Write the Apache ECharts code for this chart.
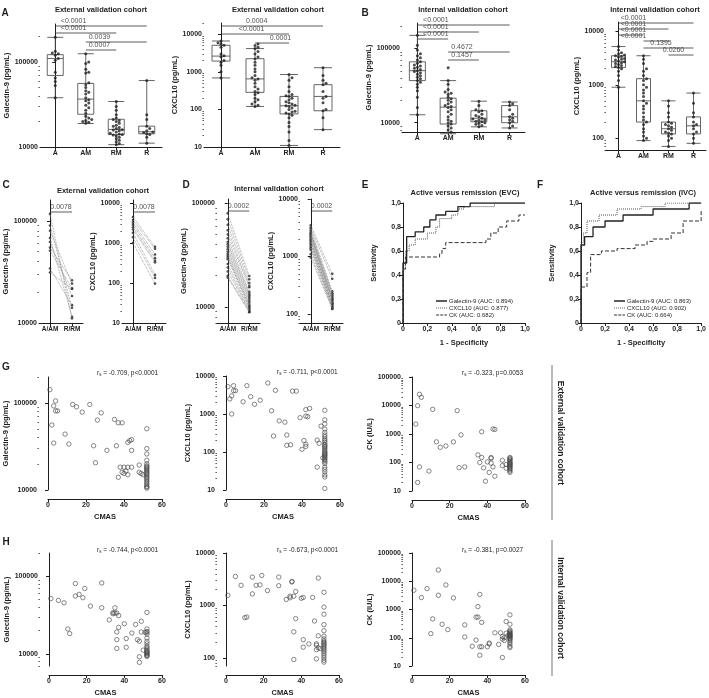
<!DOCTYPE html>
<html>
<head>
<meta charset="utf-8">
<script src="https://cdn.jsdelivr.net/npm/echarts@6/dist/echarts.min.js"></script>
<style>
  html, body { margin: 0; padding: 0; background: #fff; }
  #chart { width: 709px; height: 698px; }
</style>
</head>
<body>
<div id="chart"></div>
<script>
// ---------- data ----------
var groups = ['A', 'AM', 'RM', 'R'];
var pairCats = ['A/AM', 'R/RM'];

// A: external cohort, [min, Q1, median, Q3, max]
var galExtBox = [[38000, 69500, 110000, 122000, 195000], [18900, 24300, 36600, 56000, 125000], [10650, 14000, 16100, 21200, 34300], [11100, 14300, 15100, 17600, 60500]];
var galExtA = [195000, 134000, 128000, 125000, 120000, 110000, 105000, 76000, 65000, 59000, 53000, 38000];
var galExtAM = [125000, 100000, 96000, 82000, 76000, 74000, 57000, 54000, 50000, 46000, 44000, 42000, 38000, 36000, 35000, 33000, 31000, 29000, 27000, 25000, 23000, 22000, 21000, 20500, 20000, 19500, 19000];
var galExtRM = [34300, 30000, 27000, 24000, 22000, 21000, 20500, 20000, 19000, 18000, 17500, 17000, 16500, 16000, 15800, 15500, 15000, 14500, 14200, 14000, 13800, 13500, 13000, 12500, 12000, 11500, 11000, 10650];
var galExtR = [60500, 24000, 21000, 17600, 16500, 15500, 15000, 14800, 14300, 14000, 13000, 11100];
var galExtSig = [[0, 3, '<0.0001'], [0, 2, '<0.0001'], [1, 3, '0.0039'], [1, 2, '0.0007']];

var cxExtBox = [[690, 1940, 2630, 5100, 6640], [120, 285, 650, 2240, 4170], [11, 76, 125, 222, 850], [29, 92, 222, 456, 1290]];
var cxExtA = [6640, 6000, 5500, 5100, 4500, 3000, 2700, 2500, 2000, 1800, 1500, 1000, 690];
var cxExtAM = [5500, 5000, 4500, 4170, 3500, 3000, 2500, 2200, 1800, 1500, 1200, 1000, 800, 700, 650, 600, 500, 400, 350, 300, 280, 250, 200, 180, 160, 140, 130, 120];
var cxExtRM = [850, 700, 600, 400, 300, 250, 230, 220, 200, 180, 160, 150, 140, 130, 125, 120, 110, 100, 90, 85, 80, 76, 70, 60, 45, 35, 25, 15, 11];
var cxExtR = [1290, 800, 600, 500, 456, 300, 222, 200, 150, 100, 92, 60, 29];
var cxExtSig = [[0, 3, '0.0004'], [0, 2, '<0.0001'], [1, 2, '0.0001']];

// B: internal cohort
var galIntBox = [[12800, 36900, 50200, 66000, 150000], [7100, 9600, 16200, 21400, 36900], [8800, 10300, 11500, 14500, 19500], [8500, 10000, 12000, 17000, 19000]];
var galIntA = [150000, 110000, 95000, 85000, 80000, 75000, 70000, 66000, 63000, 60000, 58000, 56000, 54000, 52000, 50000, 49000, 47000, 45000, 43000, 41000, 39000, 37000, 35000, 33000, 30000, 27000, 22000, 16000, 12800];
var galIntAM = [55000, 37000, 33000, 28000, 26000, 25000, 24000, 22000, 21000, 20000, 19000, 18000, 17000, 16500, 16000, 15000, 14000, 13000, 12000, 11000, 10500, 10000, 9600, 9000, 8500, 8000, 7500, 7100];
var galIntRM = [19500, 17000, 15000, 14500, 14000, 13000, 12500, 12000, 11500, 11200, 11000, 10800, 10500, 10300, 10000, 9800, 9500, 9200, 8800];
var galIntR = [19000, 18000, 17000, 15000, 13000, 12000, 11500, 11000, 10500, 10000, 9000, 8500];
var galIntSig = [[0, 3, '<0.0001'], [0, 2, '<0.0001'], [0, 1, '<0.0001'], [1, 3, '0.4672'], [1, 2, '0.1457']];

var cxIntBox = [[900, 2100, 2700, 3500, 5200], [90, 200, 500, 1300, 3500], [70, 120, 150, 200, 500], [80, 120, 170, 250, 700]];
var cxIntA = [5200, 4500, 4000, 3800, 3600, 3500, 3400, 3300, 3100, 3000, 2900, 2800, 2700, 2600, 2500, 2400, 2300, 2200, 2100, 2000, 1800, 1500, 1200, 900];
var cxIntAM = [3500, 3000, 2500, 2000, 1800, 1500, 1300, 1200, 1000, 900, 800, 700, 600, 500, 450, 400, 350, 300, 250, 220, 200, 180, 150, 130, 110, 100, 90];
var cxIntRM = [500, 400, 300, 250, 200, 190, 180, 170, 160, 150, 140, 130, 125, 120, 110, 100, 90, 70];
var cxIntR = [700, 450, 300, 250, 200, 180, 170, 150, 130, 120, 100, 80];
var cxIntSig = [[0, 3, '<0.0001'], [0, 2, '<0.0001'], [0, 1, '<0.0001'], [1, 2, '<0.0001'], [1, 3, '0.1395'], [2, 3, '0.0260']];

// C, D: paired samples (same index = same patient)
var galExtPre = [117000, 90000, 80000, 68000, 62000, 54700, 51000, 34200, 31200];
var galExtPost = [11100, 14100, 24300, 11500, 18400, 26200, 21700, 14960, 21700];
var cxExtPre = [4500, 3800, 3300, 2900, 2500, 2200, 1800, 1400, 1000];
var cxExtPost = [810, 720, 520, 420, 360, 330, 160, 135, 97];
var galIntPre = [80000, 70000, 62000, 55000, 50000, 46000, 42300, 40200, 38000, 36000, 34100, 32500, 31100, 30000, 28900, 26000, 24000, 22000, 20000, 19200];
var galIntPost = [19900, 18500, 17000, 16000, 15500, 14000, 13500, 13000, 12500, 12000, 11500, 11000, 10500, 10200, 10000, 9700, 9400, 9200, 9000, 8900];
var cxIntPre = [3500, 3200, 3000, 2800, 2600, 2500, 2400, 2300, 2200, 2100, 2000, 1900, 1800, 1700, 1600, 1500, 1400, 1300, 1100, 960];
var cxIntPost = [500, 410, 250, 230, 224, 210, 200, 190, 183, 175, 170, 160, 155, 150, 145, 140, 135, 130, 125, 123];
var pairedP = ['0.0078', '0.0078', '0.0002', '0.0002'];

// E, F: ROC corners [1 - specificity, sensitivity]
var rocExtGal = [[0, 0], [0, 0.5], [0.03, 0.72], [0.1, 0.76], [0.17, 0.8], [0.22, 0.86], [0.27, 0.9], [0.35, 0.93], [0.45, 0.97], [0.55, 1], [1, 1]];
var rocExtCx = [[0, 0], [0, 0.45], [0.02, 0.6], [0.05, 0.65], [0.1, 0.7], [0.2, 0.75], [0.27, 0.8], [0.3, 0.87], [0.4, 0.9], [0.45, 0.95], [0.5, 0.97], [0.75, 1], [1, 1]];
var rocExtCk = [[0, 0], [0, 0.45], [0.02, 0.55], [0.3, 0.58], [0.32, 0.62], [0.35, 0.67], [0.68, 0.7], [0.72, 0.75], [0.78, 0.8], [0.85, 0.85], [0.95, 0.9], [1, 0.9]];
var rocIntGal = [[0, 0], [0, 0.65], [0.03, 0.72], [0.1, 0.8], [0.2, 0.85], [0.35, 0.9], [0.6, 0.95], [0.9, 1], [1, 1]];
var rocIntCx = [[0, 0], [0, 0.67], [0.02, 0.75], [0.05, 0.85], [0.15, 0.9], [0.3, 0.95], [0.5, 0.97], [0.7, 1], [1, 1]];
var rocIntCk = [[0, 0], [0, 0.3], [0.05, 0.42], [0.08, 0.57], [0.17, 0.6], [0.3, 0.62], [0.45, 0.65], [0.55, 0.68], [0.6, 0.7], [0.75, 0.75], [0.85, 0.85], [1, 0.95]];
var rocExtNames = ['Galectin-9 (AUC: 0.894)', 'CXCL10 (AUC: 0.877)', 'CK (AUC: 0.682)'];
var rocIntNames = ['Galectin-9 (AUC: 0.863)', 'CXCL10 (AUC: 0.902)', 'CK (AUC: 0.664)'];

// G, H: [CMAS, marker]
var galExtCmas = [[1,143000],[4,106000],[3,93000],[4,81500],[5,81500],[2,56000],[13,96600],[15,90700],[18,78800],[22,96600],[26,63800],[28,77300],[35,65000],[37,59400],[39,59400],[52,50700],[9,44000],[3,34700],[11,33800],[24,32300],[31,28600],[36,32300],[42,35300],[43,37000],[44,38000],[44,28600],[25,20600],[37,14000],[38,18300],[40,18300],[42,18300],[44,18300],[40,15500],[41,16500],[42,15000],[39,16000],[48,19400],[48,16000],[49,15500],[50,15000],[52,30000],[52,26000],[52,22000],[52,20000],[52,19000],[52,18500],[52,18000],[52,17500],[52,17000],[52,16500],[52,16000],[52,15500],[52,15000],[52,14500],[52,14000],[52,13500],[52,13000],[52,12500],[52,12000],[52,11500],[52,11000],[52,10800],[52,10500]];
var cxExtCmas = [[1,5230],[4,5550],[4,4100],[5,4100],[2,2500],[3,3000],[3,1000],[9,2100],[11,5550],[13,2850],[15,1800],[18,2300],[22,6550],[24,1220],[26,4200],[28,660],[31,610],[35,4000],[37,4000],[39,800],[42,880],[43,850],[42,1300],[44,1400],[52,1250],[52,700],[52,550],[52,400],[50,480],[52,330],[25,263],[32,280],[32,150],[34,155],[40,118],[41,200],[42,160],[42,140],[48,206],[49,170],[48,40],[51,70],[52,280],[52,250],[52,220],[52,200],[52,180],[52,160],[52,150],[52,140],[52,130],[52,120],[52,110],[52,100],[52,95],[52,90],[52,85],[52,80],[52,75],[52,70],[52,65],[52,60],[52,55],[52,50],[52,40],[52,35],[52,30],[52,25],[52,22],[52,11]];
var ckExtCmas = [[4,24700],[5,19400],[3,9850],[11,7300],[24,6600],[2,2230],[26,930],[37,1200],[43,1500],[44,1450],[13,530],[15,340],[18,380],[22,530],[4,70],[9,50],[3,20],[25,66],[28,70],[35,185],[37,150],[36,100],[38,65],[40,105],[42,150],[42,140],[42,95],[43,70],[41,45],[39,22],[44,33],[48,120],[48,78],[50,85],[50,63],[52,150],[52,140],[52,130],[52,120],[52,110],[52,100],[52,95],[52,90],[52,85],[52,80],[52,75],[52,70],[52,65],[52,60],[52,55],[52,50],[52,45]];
var galIntCmas = [[1,51700],[5,49000],[8,45700],[14,80800],[14,55800],[16,58600],[18,53100],[19,69800],[10,21000],[11,18300],[22,41400],[28,82300],[28,39400],[32,27500],[34,34000],[34,33000],[35,39400],[35,33700],[36,33700],[37,31200],[36,19200],[37,22000],[36,15300],[36,11800],[40,24500],[41,15800],[41,12200],[44,18600],[46,24000],[47,15300],[48,14600],[48,9200],[48,7800],[49,26400],[49,19200],[50,11200],[51,19000],[52,19000],[52,34300],[52,21000],[52,19500],[52,18000],[52,16000],[52,14500],[52,13500],[52,12500],[52,12000],[52,11500],[52,11000],[52,10800],[52,10500],[52,10200],[52,10000],[52,9700],[52,9500],[52,9300]];
var cxIntCmas = [[1,1560],[5,3570],[8,2420],[10,585],[11,600],[14,3470],[14,1660],[16,2420],[18,2460],[19,3730],[22,1920],[28,3470],[28,2380],[32,1300],[34,1400],[34,1500],[35,2870],[35,2800],[36,1500],[36,314],[36,93],[37,1840],[37,560],[40,1370],[41,1420],[41,222],[41,160],[44,184],[46,1420],[47,505],[48,185],[48,175],[48,143],[48,96],[49,3330],[49,264],[49,155],[50,150],[52,1780],[52,930],[52,680],[52,430],[52,330],[52,260],[52,230],[52,210],[52,200],[52,190],[52,180],[52,170],[52,160],[52,150],[52,140],[52,130],[52,120],[52,110],[52,100],[52,90],[52,83]];
var ckIntCmas = [[1,4800],[5,2650],[8,5500],[10,140],[11,465],[14,25100],[14,3200],[16,300],[18,7400],[19,195],[22,2570],[28,285],[28,107],[32,50],[34,83],[34,535],[35,540],[35,1270],[36,3400],[36,48],[37,48],[36,24],[37,350],[40,48],[41,60],[41,65],[44,150],[46,58],[47,150],[48,110],[48,90],[49,80],[49,100],[48,20],[50,375],[50,145],[51,120],[52,645],[52,300],[52,190],[52,175],[52,160],[52,150],[52,140],[52,130],[52,125],[52,120],[52,115],[52,110],[52,100],[52,95],[52,90],[52,80],[52,70],[52,60],[52,50],[52,45]];
var corrText = ['-0.709, p<0.0001', '-0.711, p<0.0001', '-0.323, p=0.0053', '-0.744, p<0.0001', '-0.673, p<0.0001', '-0.381, p=0.0027'];

// ---------- drawing helpers ----------
var FONT = '"Liberation Sans", Arial, sans-serif';
var INK = '#1e1e1e';
var chart = echarts.init(document.getElementById('chart'), null, { renderer: 'canvas' });
var opt = { animation: false, textStyle: { fontFamily: FONT }, grid: [], xAxis: [], yAxis: [], series: [], legend: [], graphic: [] };
var lineSty = { color: INK, width: 1 };
var tickFont = { fontSize: 7, fontWeight: 'bold', color: INK, fontFamily: FONT };
var nameFont = { fontSize: 7.5, fontWeight: 'bold', color: INK, fontFamily: FONT };

function decades(min, max) {
  var out = [];
  for (var e = Math.ceil(Math.log10(min) - 1e-9); e <= Math.floor(Math.log10(max) + 1e-9); e++) out.push(Math.pow(10, e));
  return out;
}
function minors(min, max) {
  var out = [];
  for (var e = Math.floor(Math.log10(min)); e <= Math.ceil(Math.log10(max)); e++)
    for (var m = 2; m <= 9; m++) { var v = m * Math.pow(10, e); if (v >= min && v <= max) out.push(v); }
  return out;
}

function panel(p) {
  var gi = opt.grid.length;
  var off = p.offset || 0;
  opt.grid.push({ left: p.box[0], top: p.box[1], width: p.box[2], height: p.box[3] });
  var P = { box: p.box, y: opt.yAxis.length, ymin: p.y.min, ymax: p.y.max, log: p.y.type === 'log' };
  var ya = {
    gridIndex: gi, type: p.y.type, position: 'left', min: p.y.min, max: p.y.max, offset: off,
    axisLine: { show: true, lineStyle: lineSty }, splitLine: { show: false },
    axisTick: { show: true, length: 3, lineStyle: lineSty },
    axisLabel: Object.assign({ margin: 2 }, tickFont),
    name: p.y.name, nameLocation: 'middle', nameGap: p.y.gap, nameTextStyle: nameFont
  };
  if (P.log) {
    var major = decades(p.y.min, p.y.max);
    ya.logBase = 10;
    ya.axisTick.customValues = major;
    ya.axisLabel.customValues = major;
    ya.axisLabel.formatter = function (v) { return String(Math.round(v)); };
  } else {
    ya.interval = p.y.interval;
    ya.axisLabel.formatter = p.y.fmt;
  }
  opt.yAxis.push(ya);
  if (P.log) {
    opt.yAxis.push({
      gridIndex: gi, type: 'log', logBase: 10, position: 'left', min: p.y.min, max: p.y.max, offset: off,
      axisLine: { show: false }, splitLine: { show: false }, axisLabel: { show: false },
      axisTick: { show: true, length: 1.6, customValues: minors(p.y.min, p.y.max), lineStyle: { color: INK, width: 0.7 } }
    });
  }
  var xa = {
    gridIndex: gi, position: 'bottom', offset: off,
    axisLine: { show: true, onZero: false, lineStyle: lineSty }, splitLine: { show: false },
    axisTick: { show: true, length: 3, lineStyle: lineSty },
    axisLabel: Object.assign({ margin: 3 }, tickFont),
    name: p.x.name, nameLocation: 'middle', nameGap: p.x.gap, nameTextStyle: nameFont
  };
  P.x = opt.xAxis.length;
  if (p.x.cats) {
    xa.type = 'category'; xa.data = p.x.cats; xa.axisTick.alignWithLabel = true;
    xa.axisLabel.interval = 0;
    if (p.x.small) xa.axisLabel.fontSize = 6.5;
    opt.xAxis.push(xa);
    P.n = p.x.cats.length;
    P.xv = opt.xAxis.length;
    opt.xAxis.push({ gridIndex: gi, type: 'value', min: -0.5, max: P.n - 0.5, show: false });
  } else {
    xa.type = 'value'; xa.min = p.x.min; xa.max = p.x.max; xa.interval = p.x.interval;
    xa.axisLabel.formatter = p.x.fmt;
    opt.xAxis.push(xa);
    P.xv = P.x;
  }
  return P;
}

function yFrac(P, v) {
  if (!P.log) return (v - P.ymin) / (P.ymax - P.ymin);
  var a = Math.log10(P.ymin), b = Math.log10(P.ymax);
  return (Math.log10(v) - a) / (b - a);
}
function yAtPx(P, px) { // value at px below the grid top
  var a = Math.log10(P.ymin), b = Math.log10(P.ymax);
  return Math.pow(10, b - px / P.box[3] * (b - a));
}

// simple beeswarm so dots of equal value sit side by side
function swarm(P, vals, idx, diam) {
  var unit = P.box[2] / P.n, placed = [], out = [];
  vals.slice().sort(function (a, b) { return a - b; }).forEach(function (v) {
    var py = yFrac(P, v) * P.box[3], dx = 0;
    for (var k = 0; k < 30; k++) {
      dx = k === 0 ? 0 : (k % 2 ? 1 : -1) * Math.ceil(k / 2) * diam;
      var ok = placed.every(function (q) { return (q[0] - dx) * (q[0] - dx) + (q[1] - py) * (q[1] - py) >= diam * diam * 0.85; });
      if (ok) break;
    }
    placed.push([dx, py]);
    out.push([idx + dx / unit, v]);
  });
  return out;
}

function sigBars(P, sig, layout) {
  sig.forEach(function (s, i) {
    var yv = yAtPx(P, layout[i][0]);
    opt.series.push({ type: 'line', xAxisIndex: P.xv, yAxisIndex: P.y, data: [[s[0], yv], [s[1], yv]], symbol: 'none', silent: true, clip: false,
      lineStyle: { color: '#333', width: 0.8 } });
    opt.series.push({ type: 'scatter', xAxisIndex: P.xv, yAxisIndex: P.y, data: [[layout[i][1], yv]], symbolSize: 1, silent: true, clip: false,
      itemStyle: { color: 'rgba(0,0,0,0)' },
      label: { show: true, position: 'top', distance: 0.5, formatter: s[2], fontSize: 7, color: INK, fontFamily: FONT } });
  });
}

function boxChart(P, box, sets, bw) {
  opt.series.push({ type: 'boxplot', xAxisIndex: P.x, yAxisIndex: P.y, data: box, boxWidth: [bw, bw], silent: true,
    itemStyle: { color: 'rgba(255,255,255,0)', borderColor: '#555', borderWidth: 0.9 } });
  sets.forEach(function (vals, i) {
    opt.series.push({ type: 'scatter', xAxisIndex: P.xv, yAxisIndex: P.y, data: swarm(P, vals, i, 3), symbolSize: 3, silent: true, z: 3,
      itemStyle: { color: INK } });
  });
}

function pairedChart(P, pre, post) {
  pre.forEach(function (v, i) {
    opt.series.push({ type: 'line', xAxisIndex: P.xv, yAxisIndex: P.y, data: [[0, v], [1, post[i]]], symbol: 'none', silent: true,
      lineStyle: { color: '#8a8a8a', width: 0.8, type: 'dotted' } });
  });
  opt.series.push({ type: 'scatter', xAxisIndex: P.xv, yAxisIndex: P.y, symbolSize: 2.6, silent: true, itemStyle: { color: INK },
    data: pre.map(function (v) { return [0, v]; }).concat(post.map(function (v) { return [1, v]; })) });
}

// legend icons drawn as paths so the solid / dotted / dashed patterns stay visible
var rocIcons = [
  'path://M0,0h12v1.6h-12z',
  'path://M0,0h1v1.2h-1zM2.2,0h1v1.2h-1zM4.4,0h1v1.2h-1zM6.6,0h1v1.2h-1zM8.8,0h1v1.2h-1zM11,0h1v1.2h-1z',
  'path://M0,0h3.4v1.3h-3.4zM4.6,0h3.4v1.3h-3.4zM9.2,0h2.8v1.3h-2.8z'
];
function rocChart(P, curves, names, legendPos) {
  var styles = [{ type: 'solid', width: 1.3, color: '#222' }, { type: 'dotted', width: 1, color: '#555' }, { type: 'dashed', width: 1, color: '#333' }];
  curves.forEach(function (c, i) {
    opt.series.push({ type: 'line', name: names[i], xAxisIndex: P.x, yAxisIndex: P.y, data: c, step: 'end', symbol: 'none', silent: true,
      lineStyle: styles[i], itemStyle: { color: styles[i].color } });
  });
  opt.legend.push({ data: names.map(function (n, i) { return { name: n, icon: rocIcons[i] }; }),
    orient: 'vertical', left: legendPos[0], top: legendPos[1], itemGap: 1, itemWidth: 11, itemHeight: 7, padding: 0,
    selectedMode: false, textStyle: { fontSize: 6, color: INK, fontFamily: FONT, padding: [0, 0, 0, -3] } });
}

function cmasChart(P, pts) {
  opt.series.push({ type: 'scatter', xAxisIndex: P.x, yAxisIndex: P.y, data: pts, symbol: 'circle', symbolSize: 4.4, silent: true,
    itemStyle: { color: 'rgba(0,0,0,0)', borderColor: '#444', borderWidth: 0.8 } });
}

function txt(x, y, s, size, bold, align, rot) {
  opt.graphic.push({ type: 'text', x: x, y: y, rotation: rot || 0, silent: true,
    style: { text: s, font: (bold ? 'bold ' : '') + size + 'px ' + FONT, fill: INK, textAlign: align || 'center', textVerticalAlign: 'middle' } });
}
function corr(x, y, s) {
  opt.graphic.push({ type: 'text', x: x, y: y, silent: true,
    style: { text: '{a|r}{b|s}{a| = ' + s + '}', textAlign: 'left', textVerticalAlign: 'middle',
      rich: { a: { fontSize: 6.5, fontFamily: FONT, fill: INK }, b: { fontSize: 4.5, fontFamily: FONT, fill: INK, padding: [4, 0, 0, 0] } } } });
}

var comma = function (v) { return v === 0 ? '0' : v.toFixed(1).replace('.', ','); };
var plain = function (v) { return String(v); };

// ---------- row 1: box plots ----------
var pA1 = panel({ box: [40, 24, 122, 123], y: { type: 'log', min: 10000, max: 280000, name: 'Galectin-9 (pg/mL)', gap: 27 }, x: { cats: groups } });
boxChart(pA1, galExtBox, [galExtA, galExtAM, galExtRM, galExtR], 16);
sigBars(pA1, galExtSig, [[2, 0.6], [9, 0.6], [18, 1.45], [26, 1.45]]);

var pA2 = panel({ box: [204, 23, 136, 124], y: { type: 'log', min: 10, max: 20000, name: 'CXCL10 (pg/mL)', gap: 23 }, x: { cats: groups } });
boxChart(pA2, cxExtBox, [cxExtA, cxExtAM, cxExtRM, cxExtR], 18);
sigBars(pA2, cxExtSig, [[3, 1.05], [11, 0.9], [20, 1.75]]);

var pB1 = panel({ box: [402, 23, 123, 109], y: { type: 'log', min: 7500, max: 220000, name: 'Galectin-9 (pg/mL)', gap: 27 }, x: { cats: groups } });
boxChart(pB1, galIntBox, [galIntA, galIntAM, galIntRM, galIntR], 16);
sigBars(pB1, galIntSig, [[2, 0.6], [9, 0.6], [16, 0.6], [29, 1.45], [37, 1.45]]);

var pB2 = panel({ box: [606, 22, 100, 128], y: { type: 'log', min: 60, max: 15000, name: 'CXCL10 (pg/mL)', gap: 23 }, x: { cats: groups } });
boxChart(pB2, cxIntBox, [cxIntA, cxIntAM, cxIntRM, cxIntR], 14);
sigBars(pB2, cxIntSig, [[1, 0.6], [7, 0.6], [13, 0.6], [19, 0.6], [26, 1.7], [33, 2.2]]);

// ---------- row 2: paired + ROC ----------
var pC1 = panel({ box: [39, 200, 44, 123], y: { type: 'log', min: 10000, max: 160000, name: 'Galectin-9 (pg/mL)', gap: 27 }, x: { cats: pairCats, small: true } });
pairedChart(pC1, galExtPre, galExtPost);
sigBars(pC1, [[0, 1, pairedP[0]]], [[12, 0.5]]);
var pC2 = panel({ box: [122, 200, 44, 123], y: { type: 'log', min: 10, max: 12000, name: 'CXCL10 (pg/mL)', gap: 18 }, x: { cats: pairCats, small: true } });
pairedChart(pC2, cxExtPre, cxExtPost);
sigBars(pC2, [[0, 1, pairedP[1]]], [[12, 0.5]]);
var pD1 = panel({ box: [217, 199, 43, 124], y: { type: 'log', min: 7000, max: 110000, name: 'Galectin-9 (pg/mL)', gap: 27 }, x: { cats: pairCats, small: true } });
pairedChart(pD1, galIntPre, galIntPost);
sigBars(pD1, [[0, 1, pairedP[2]]], [[12, 0.5]]);
var pD2 = panel({ box: [300, 199, 43, 124], y: { type: 'log', min: 70, max: 10000, name: 'CXCL10 (pg/mL)', gap: 23 }, x: { cats: pairCats, small: true } });
pairedChart(pD2, cxIntPre, cxIntPost);
sigBars(pD2, [[0, 1, pairedP[3]]], [[12, 0.5]]);

var pE = panel({ box: [403, 203, 122, 120], y: { type: 'value', min: 0, max: 1, interval: 0.2, fmt: comma, name: 'Sensitivity', gap: 25 },
  x: { min: 0, max: 1, interval: 0.2, fmt: comma, name: '1 - Specificity', gap: 16 } });
rocChart(pE, [rocExtGal, rocExtCx, rocExtCk], rocExtNames, [436, 298]);
var pF = panel({ box: [581, 203, 122, 120], y: { type: 'value', min: 0, max: 1, interval: 0.2, fmt: comma, name: 'Sensitivity', gap: 25 },
  x: { min: 0, max: 1, interval: 0.2, fmt: comma, name: '1 - Specificity', gap: 16 } });
rocChart(pF, [rocIntGal, rocIntCx, rocIntCk], rocIntNames, [614, 298]);

// ---------- rows 3-4: marker vs CMAS ----------
var cmasX = { min: 0, max: 60, interval: 20, fmt: plain, name: 'CMAS', gap: 14 };
var pG1 = panel({ box: [48, 377, 114, 113], offset: 9, y: { type: 'log', min: 10000, max: 200000, name: 'Galectin-9 (pg/mL)', gap: 27 }, x: cmasX });
cmasChart(pG1, galExtCmas);
var pG2 = panel({ box: [226, 376, 114, 114], offset: 9, y: { type: 'log', min: 10, max: 10000, name: 'CXCL10 (pg/mL)', gap: 22 }, x: cmasX });
cmasChart(pG2, cxExtCmas);
var pG3 = panel({ box: [412, 377, 113, 114], offset: 9, y: { type: 'log', min: 10, max: 100000, name: 'CK (IU/L)', gap: 22 }, x: cmasX });
cmasChart(pG3, ckExtCmas);
var pH1 = panel({ box: [49, 553, 113, 114], offset: 9, y: { type: 'log', min: 7000, max: 200000, name: 'Galectin-9 (pg/mL)', gap: 27 }, x: cmasX });
cmasChart(pH1, galIntCmas);
var pH2 = panel({ box: [226, 553, 113, 114], offset: 9, y: { type: 'log', min: 70, max: 10000, name: 'CXCL10 (pg/mL)', gap: 22 }, x: cmasX });
cmasChart(pH2, cxIntCmas);
var pH3 = panel({ box: [412, 553, 113, 114], offset: 9, y: { type: 'log', min: 10, max: 100000, name: 'CK (IU/L)', gap: 22 }, x: cmasX });
cmasChart(pH3, ckIntCmas);

// ---------- titles, letters, annotations ----------
[['A', 5, 13], ['B', 365, 13], ['C', 6, 185], ['D', 186, 185], ['E', 365, 185], ['F', 540, 185], ['G', 6, 367], ['H', 6, 542]]
  .forEach(function (l) { txt(l[1], l[2], l[0], 10, true, 'center'); });
txt(101, 10, 'External validation cohort', 7.5, true);
txt(278, 10, 'External validation cohort', 7.5, true);
txt(463, 10, 'Internal validation cohort', 7.5, true);
txt(655, 10, 'Internal validation cohort', 7.5, true);
txt(103, 191, 'External validation cohort', 7.5, true);
txt(279, 189, 'Internal validation cohort', 7.5, true);
txt(465, 193, 'Active versus remission (EVC)', 7.5, true);
txt(643, 193, 'Active versus remission (IVC)', 7.5, true);
corr(97, 373, corrText[0]); corr(277, 372, corrText[1]); corr(462, 373, corrText[2]);
corr(97, 550, corrText[3]); corr(277, 550, corrText[4]); corr(462, 550, corrText[5]);
txt(560, 433, 'External validation cohort', 8.5, true, 'center', -Math.PI / 2);
txt(560, 608, 'Internal validation cohort', 8.5, true, 'center', -Math.PI / 2);
opt.graphic.push({ type: 'line', silent: true, shape: { x1: 552, y1: 365, x2: 552, y2: 520 }, style: { stroke: '#555', lineWidth: 0.8 } });
opt.graphic.push({ type: 'line', silent: true, shape: { x1: 552, y1: 540, x2: 552, y2: 676 }, style: { stroke: '#555', lineWidth: 0.8 } });

chart.setOption(opt);
</script>
</body>
</html>
